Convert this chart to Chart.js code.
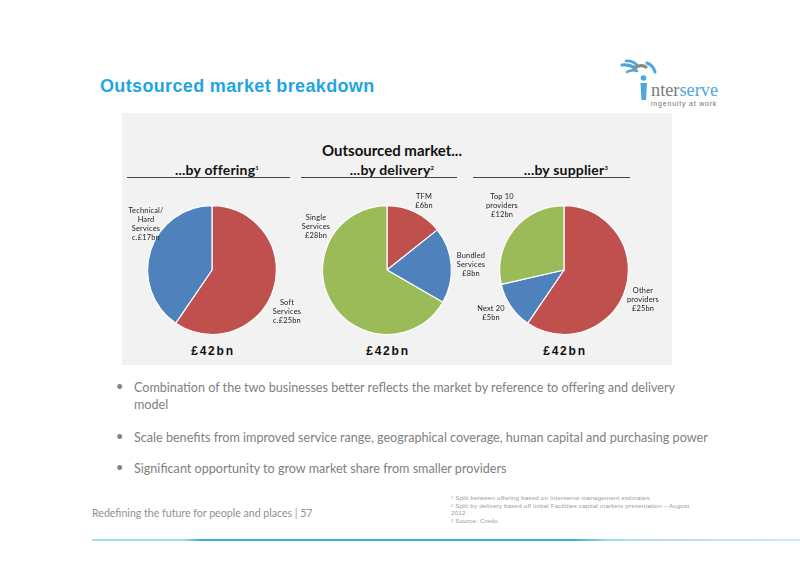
<!DOCTYPE html>
<html>
<head>
<meta charset="utf-8">
<script src="https://cdn.jsdelivr.net/npm/chart.js@4.4.0/dist/chart.umd.min.js"></script>
<style>
  html,body{margin:0;padding:0;background:#fff;}
  #page{position:relative;width:800px;height:566px;overflow:hidden;background:#fff;font-family:Lato,"Open Sans",sans-serif;}
  .abs{position:absolute;}
  #title{left:100px;top:76px;font:bold 18px "Liberation Sans",Arial,sans-serif;color:#1ea5e3;letter-spacing:0.35px;}
  #panel{left:122px;top:113px;width:550px;height:252px;background:#f2f2f2;}
  #ptitle{left:122px;width:540px;top:141px;text-align:center;font:bold 15px Lato,sans-serif;color:#111;}
  .sub{top:161px;width:170px;text-align:center;font:bold 14px Lato,sans-serif;color:#111;letter-spacing:0.2px;}
  .sub sup{font-size:6px;vertical-align:5px;}
  .rule{top:177px;height:0;border-top:1.5px solid #444;}
  .tot{top:344px;width:120px;text-align:center;font:bold 12px "Liberation Sans",Arial,sans-serif;letter-spacing:1.8px;color:#111;}
  canvas.pie{position:absolute;}
  .lbl{position:absolute;width:70px;text-align:center;font:7.4px/9px Lato,sans-serif;color:#222;letter-spacing:0.2px;}
  .bul{left:116px;font:12.6px Lato,sans-serif;color:#808080;}
  .bul .dot{position:absolute;left:0;top:0;}
  .bul .txt{position:absolute;left:18px;top:0;line-height:17px;}
  .fn{position:absolute;left:451px;white-space:nowrap;font:6.2px/7.2px "Liberation Sans",Arial,sans-serif;color:#9a9a9a;letter-spacing:0.2px;}
  .fn .n{font-size:4px;line-height:4px;position:relative;top:-1px;}
  #foot{left:92px;top:507px;font:10.6px Lato,sans-serif;color:#909090;}
  #bline{left:92px;top:539px;width:708px;height:2px;background:linear-gradient(to right,#a9dcf1 0px,#a9dcf1 90px,#39ace0 110px,#39ace0 480px,#a9dcf1 520px,#cfeaf6 708px);}
</style>
</head>
<body>
<div id="page">
  <div id="title" class="abs">Outsourced market breakdown</div>

  <div class="abs" style="left:615px;top:56px;width:130px;height:44px;">
    <svg width="130" height="44" viewBox="0 0 130 44">
      <path d="M7 9 Q13 8 21 12" stroke="#4aa8dc" stroke-width="3.2" fill="none" stroke-linecap="round"/>
      <path d="M11 5 Q17 4 22 9" stroke="#4aa8dc" stroke-width="2.6" fill="none" stroke-linecap="round"/>
      <path d="M12 16 Q17 13 22 15" stroke="#4aa8dc" stroke-width="2.6" fill="none" stroke-linecap="round"/>
      <path d="M19 12 Q25 8 31 11" stroke="#8a8a8a" stroke-width="3.2" fill="none" stroke-linecap="round"/>
      <path d="M32 7 Q38 9 40 16" stroke="#4aa8dc" stroke-width="3" fill="none" stroke-linecap="round"/>
      <circle cx="28.5" cy="22" r="2.8" fill="#4aa8dc"/>
      <path d="M25.5 27 L32 27 L31 44 L26.5 44 Z" fill="#4aa8dc"/>
      <text x="36" y="40" font-family="Liberation Serif, serif" font-size="19" fill="#7a7a7a" textLength="67" lengthAdjust="spacingAndGlyphs">nter<tspan fill="#4aa8dc">serve</tspan></text>
    </svg>
  </div>
  <div class="abs" style="left:651px;top:100px;font:7px/8px 'Liberation Sans',sans-serif;color:#707070;letter-spacing:0.8px;white-space:nowrap;">ingenuity at work</div>

  <div id="panel" class="abs"></div>
  <div id="ptitle" class="abs">Outsourced market...</div>
  <div id="sub0" class="abs sub"></div>
  <div id="sub1" class="abs sub"></div>
  <div id="sub2" class="abs sub"></div>
  <div class="abs rule" style="left:127px;width:163px;"></div>
  <div class="abs rule" style="left:301px;width:156px;"></div>
  <div class="abs rule" style="left:473px;width:157px;"></div>

  <canvas id="c0" class="pie" width="140" height="140" style="left:142px;top:200px;width:140px;height:140px;"></canvas>
  <canvas id="c1" class="pie" width="140" height="140" style="left:317px;top:200px;width:140px;height:140px;"></canvas>
  <canvas id="c2" class="pie" width="140" height="140" style="left:494px;top:200px;width:140px;height:140px;"></canvas>

  <div id="tot0" class="abs tot" style="left:153px;"></div>
  <div id="tot1" class="abs tot" style="left:328px;"></div>
  <div id="tot2" class="abs tot" style="left:505px;"></div>

  <div class="abs bul" style="top:379px;"><span class="dot">•</span><span class="txt" id="b0" style="width:560px;"></span></div>
  <div class="abs bul" style="top:429px;"><span class="dot">•</span><span class="txt" id="b1" style="white-space:nowrap;"></span></div>
  <div class="abs bul" style="top:460px;"><span class="dot">•</span><span class="txt" id="b2" style="white-space:nowrap;"></span></div>

  <div id="fnbox"></div>
  <div id="foot" class="abs">Redefining the future for people and places&nbsp;|&nbsp;57</div>
  <div id="bline" class="abs"></div>
</div>

<script>
// ---- data ----
const subtitles = ['...by offering', '...by delivery', '...by supplier'];
const offeringCategories = [['Soft', 'Services'], ['Technical/', 'Hard', 'Services']];
const offeringValues = [25, 17];
const deliveryCategories = [['TFM'], ['Bundled', 'Services'], ['Single', 'Services']];
const deliveryValues = [6, 8, 28];
const supplierCategories = [['Other', 'providers'], ['Next 20'], ['Top 10', 'providers']];
const supplierValues = [25, 5, 12];
const bullets = [
  'Combination of the two businesses better reflects the market by reference to offering and delivery model',
  'Scale benefits from improved service range, geographical coverage, human capital and purchasing power',
  'Significant opportunity to grow market share from smaller providers'
];
const footnoteLines = [
  ['Split between offering based on Interserve management estimates'],
  ['Split by delivery based off Initial Facilities capital markets presentation \u2013 August', '2012'],
  ['Source: Credo']
];

// ---- styling ----
const RED = '#c0504d', BLUE = '#4f81bd', GREEN = '#9bbb59';
const pies = [
  {id: 'c0', cats: offeringCategories, vals: offeringValues, colors: [RED, BLUE], prefix: 'c.',
   lblPos: [[252, 298], [111, 206]]},
  {id: 'c1', cats: deliveryCategories, vals: deliveryValues, colors: [RED, BLUE, GREEN], prefix: '',
   lblPos: [[389, 192], [436, 251], [281, 213]]},
  {id: 'c2', cats: supplierCategories, vals: supplierValues, colors: [RED, BLUE, GREEN], prefix: '',
   lblPos: [[608, 286], [456, 304], [467, 192]]}
];

const centers = [217, 392, 566];
subtitles.forEach((s, i) => {
  const el = document.getElementById('sub' + i);
  el.innerHTML = s + '<sup>' + (i + 1) + '</sup>';
  el.style.left = (centers[i] - 85) + 'px';
});

const page = document.getElementById('page');
pies.forEach((p, pi) => {
  new Chart(document.getElementById(p.id), {
    type: 'pie',
    data: {
      labels: p.cats.map(c => c.join(' ')),
      datasets: [{data: p.vals, backgroundColor: p.colors, borderColor: '#ffffff', borderWidth: 1.2}]
    },
    options: {
      responsive: false, animation: false,
      layout: {padding: 5},
      plugins: {legend: {display: false}, tooltip: {enabled: false}}
    }
  });
  const total = p.vals.reduce((a, b) => a + b, 0);
  document.getElementById('tot' + pi).textContent = '\u00a3' + total + 'bn';
  p.cats.forEach((c, k) => {
    const d = document.createElement('div');
    d.className = 'lbl';
    d.style.left = p.lblPos[k][0] + 'px';
    d.style.top = p.lblPos[k][1] + 'px';
    d.innerHTML = c.join('<br>') + '<br>' + p.prefix + '\u00a3' + p.vals[k] + 'bn';
    page.appendChild(d);
  });
});

bullets.forEach((b, i) => { document.getElementById('b' + i).textContent = b; });

// footnotes: one element per printed line
let fy = 494;
const fnbox = document.getElementById('fnbox');
footnoteLines.forEach((lines, i) => {
  lines.forEach((ln, j) => {
    const d = document.createElement('div');
    d.className = 'fn';
    d.style.top = fy + 'px';
    d.innerHTML = (j === 0 ? '<span class="n">' + (i + 1) + '</span> ' : '') + ln;
    fnbox.appendChild(d);
    fy += 7.5;
  });
});
</script>
</body>
</html>
